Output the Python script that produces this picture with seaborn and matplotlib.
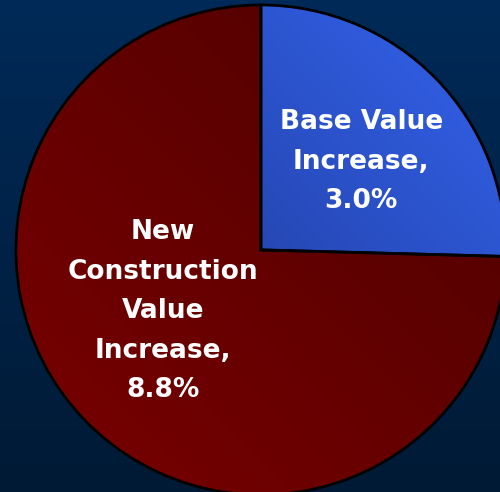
import numpy as np
import matplotlib
matplotlib.use("Agg")
import matplotlib.pyplot as plt
import seaborn as sns
from matplotlib.colors import LinearSegmentedColormap

sns.set_theme(style="white")
plt.rcParams['font.family'] = ['DejaVu Sans']

categories = ["Base Value\nIncrease,\n3.0%", "New\nConstruction\nValue\nIncrease,\n8.8%"]
values = [3.0, 8.8]
colors_light = ["#3363ee", "#7a0000"]
colors_dark = ["#1a2d7c", "#4c0000"]

fig = plt.figure(figsize=(5.0, 4.92), dpi=100)
ax = fig.add_axes([0, 0, 1, 1])
xlim = (-1.065, 0.976)
ylim = (-0.988, 1.02)

# background gradient
bg = LinearSegmentedColormap.from_list("bg", ["#001a35", "#002a58"])
grad = np.linspace(0, 1, 256).reshape(-1, 1)
ax.imshow(grad, extent=[xlim[0], xlim[1], ylim[0], ylim[1]], origin="lower",
          cmap=bg, aspect="auto", zorder=0)

wedges, texts = ax.pie(values, labels=categories, startangle=90, counterclock=False,
                       colors=colors_light, radius=1.0, labeldistance=0.5,
                       wedgeprops=dict(edgecolor="black", linewidth=2.0),
                       textprops=dict(color="white", fontsize=19, fontweight="bold",
                                      ha="center", va="center", linespacing=1.68))

# gradient fills clipped to wedges
xx, yy = np.meshgrid(np.linspace(-1, 1, 300), np.linspace(-1, 1, 300))
diag = (xx + yy)
for w, cl, cd, direction in zip(wedges, colors_light, colors_dark, [1, -1]):
    cmap = LinearSegmentedColormap.from_list("g", [cd, cl])
    d = diag * direction
    d = (d - d.min()) / (d.max() - d.min())
    im = ax.imshow(d, extent=[-1, 1, -1, 1], origin="lower", cmap=cmap,
                   zorder=w.get_zorder() + 0.1, aspect="auto")
    im.set_clip_path(w)
    w.set_facecolor("none")
    w.set_zorder(w.get_zorder() + 0.2)

label_pos = [(0.41, 0.36), (-0.40, -0.25)]
for t, p in zip(texts, label_pos):
    t.set_position(p)
    t.set_zorder(5)

ax.set_xlim(*xlim)
ax.set_ylim(*ylim)
ax.set_aspect("equal")
ax.axis("off")
fig.savefig("out.png", dpi=100)
